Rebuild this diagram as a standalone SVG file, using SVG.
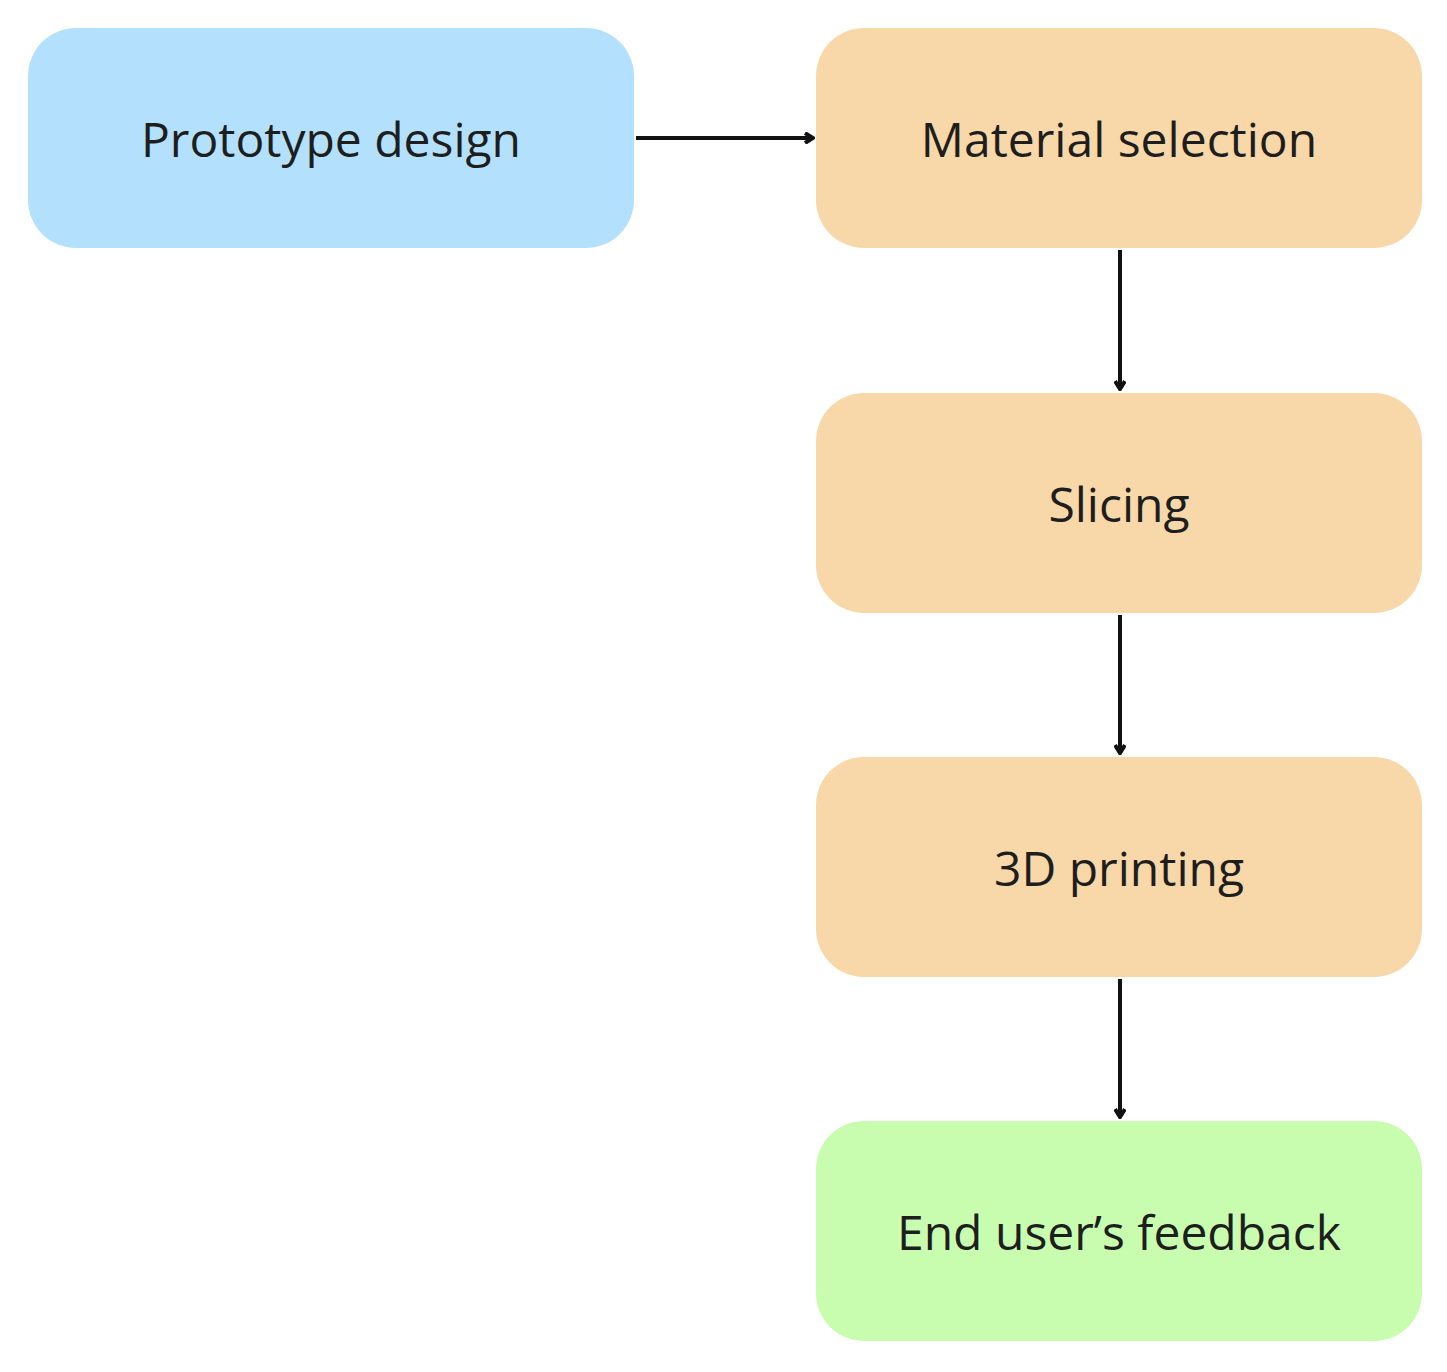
<svg xmlns="http://www.w3.org/2000/svg" width="1447" height="1372" viewBox="0 0 1447 1372">
<style>
.t{font-family:"Open Sans","Noto Sans",sans-serif;font-size:48px;fill:#1e1e1e;text-anchor:middle;dominant-baseline:central}
.c{stroke:#111;stroke-width:4;fill:none}
</style>
<defs><marker id="a" markerWidth="12" markerHeight="12" refX="10" refY="6" orient="auto" markerUnits="userSpaceOnUse"><path d="M2,1 L10,6 L2,11" fill="none" stroke="#111" stroke-width="4"/></marker></defs>
<rect width="1447" height="1372" fill="#fff"/>
<g id="n1"><rect x="28" y="28" width="606" height="220" rx="48" fill="#b3e1fd"/><text class="t" x="331" y="138">Prototype design</text></g>
<g id="n2"><rect x="816" y="28" width="606" height="220" rx="48" fill="#f8d8a8"/><text class="t" x="1119" y="138">Material selection</text></g>
<g id="n3"><rect x="816" y="393" width="606" height="220" rx="48" fill="#f8d8a8"/><text class="t" x="1119" y="503">Slicing</text></g>
<g id="n4"><rect x="816" y="757" width="606" height="220" rx="48" fill="#f8d8a8"/><text class="t" x="1119" y="867">3D printing</text></g>
<g id="n5"><rect x="816" y="1121" width="606" height="220" rx="48" fill="#c8fdb0"/><text class="t" x="1119" y="1231">End user’s feedback</text></g>
<g id="connectors">
<path class="c" d="M636,138 H813" marker-end="url(#a)"/>
<path class="c" d="M1120,250 V389" marker-end="url(#a)"/>
<path class="c" d="M1120,615 V753" marker-end="url(#a)"/>
<path class="c" d="M1120,979 V1117" marker-end="url(#a)"/>
</g>
</svg>
